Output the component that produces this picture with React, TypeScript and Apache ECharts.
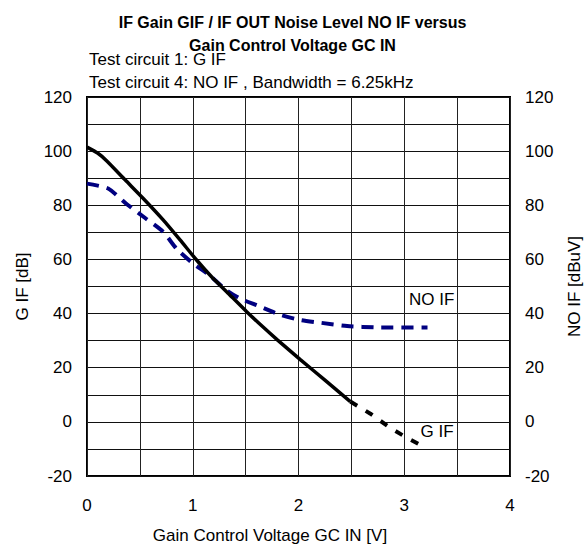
import React, { useEffect, useRef } from "react";
import * as echarts from "echarts";

const titleLines = ["IF Gain GIF / IF OUT Noise Level NO IF versus", "Gain Control Voltage GC IN"];
const noteLines = ["Test circuit 1: G IF", "Test circuit 4: NO IF , Bandwidth = 6.25kHz"];
const xName = "Gain Control Voltage GC IN [V]";
const yLeftName = "G IF [dB]";
const yRightName = "NO IF [dBuV]";

const gifSolid: [number, number][] = [
  [0, 101.5], [0.1, 99.3], [0.19, 96.3], [0.36, 89.4], [0.53, 82.6], [0.72, 74.6],
  [0.88, 67.2], [1.04, 59.6], [1.18, 53.5], [1.32, 48.1], [1.51, 40.7], [1.66, 35.2],
  [1.8, 30.3], [2.02, 22.9], [2.25, 15.4], [2.49, 7.5],
];
const gifDashed: [number, number][] = [
  [2.49, 7.5], [2.68, 3.0], [2.87, -2.3], [3.03, -6.0], [3.19, -9.3],
];
const noIf: [number, number][] = [
  [0, 88], [0.2, 86.2], [0.38, 80.3], [0.55, 75.3], [0.72, 70.2], [0.85, 63.8],
  [1.0, 58.6], [1.15, 54.4], [1.32, 48.6], [1.45, 45.5], [1.61, 43.0], [1.83, 39.5],
  [2.02, 37.6], [2.21, 36.6], [2.46, 35.4], [2.75, 34.9], [3.22, 34.9],
];
const noIfLabel: [number, number] = [3.26, 45.2];
const gifLabel: [number, number] = [3.31, -3.6];

const FONT = "Liberation Sans, Arial, sans-serif";

export default function App() {
  const ref = useRef<HTMLDivElement>(null);
  useEffect(() => {
    if (!ref.current) return;
    const chart = echarts.init(ref.current, undefined, { renderer: "svg" });
    const yAxisBase = {
      type: "value",
      min: -20,
      max: 120,
      interval: 10,
      nameLocation: "middle",
      nameRotate: 90,
      nameGap: 56,
      nameTextStyle: { color: "#000", fontSize: 17, fontFamily: FONT },
      axisLine: { show: false },
      axisTick: { show: false },
      axisLabel: {
        color: "#000",
        fontSize: 17,
        fontFamily: FONT,
        margin: 15,
        formatter: (v: number) => (v % 20 === 0 ? String(v) : ""),
      },
    };
    chart.setOption({
      animation: false,
      backgroundColor: "#fff",
      textStyle: { fontFamily: FONT },
      title: {
        text: titleLines.join("\n"),
        left: "center",
        top: 6,
        textStyle: { fontSize: 16, fontWeight: "bold", color: "#000", lineHeight: 23, fontFamily: FONT },
      },
      grid: {
        left: 87,
        right: 75,
        top: 97,
        bottom: 71,
        outerBoundsMode: "none",
        containLabel: false,
        show: true,
        borderColor: "#000",
        borderWidth: 2,
        backgroundColor: "transparent",
      },
      graphic: [
        ...noteLines.map((t, i) => ({
          type: "text",
          left: 89,
          top: 51 + i * 23,
          style: { text: t, fontSize: 17, fontFamily: FONT, fill: "#000" },
        })),
        {
          type: "text",
          x: 270,
          y: 535,
          style: { text: xName, fontSize: 17, fontFamily: FONT, fill: "#000", align: "center", verticalAlign: "middle" },
        },
      ],
      xAxis: {
        type: "value",
        min: 0,
        max: 4,
        interval: 0.5,
        axisLine: { show: false },
        axisTick: { show: false },
        splitLine: { show: true, lineStyle: { color: "#222", width: 1 } },
        axisLabel: {
          color: "#000",
          fontSize: 17,
          fontFamily: FONT,
          margin: 21,
          formatter: (v: number) => (Number.isInteger(v) ? String(v) : ""),
        },
      },
      yAxis: [
        { ...yAxisBase, name: yLeftName, position: "left", splitLine: { show: true, lineStyle: { color: "#111", width: 1 } } },
        { ...yAxisBase, name: yRightName, position: "right", splitLine: { show: false } },
      ],
      series: [
        {
          type: "line",
          data: gifSolid,
          showSymbol: false,
          smooth: 0.2,
          lineStyle: { color: "#000", width: 3.5 },
          z: 3,
        },
        {
          type: "line",
          data: gifDashed,
          showSymbol: false,
          lineStyle: { color: "#000", width: 4, type: [8, 10] },
          markPoint: {
            symbol: "circle",
            symbolSize: 0,
            data: [{ coord: gifLabel, value: 0 }],
            label: { show: true, position: "inside", formatter: "G IF", color: "#000", fontSize: 17, fontFamily: FONT },
          },
          z: 3,
        },
        {
          type: "line",
          yAxisIndex: 1,
          data: noIf,
          showSymbol: false,
          smooth: 0.2,
          lineStyle: { color: "#000080", width: 4, type: [12, 8] },
          markPoint: {
            symbol: "circle",
            symbolSize: 0,
            data: [{ coord: noIfLabel, value: 0 }],
            label: { show: true, position: "inside", formatter: "NO IF", color: "#000", fontSize: 17, fontFamily: FONT },
          },
          z: 2,
        },
      ],
    });
    return () => chart.dispose();
  }, []);
  return (
    <div
      ref={ref}
      style={{ position: "fixed", left: 0, top: 0, width: 585, height: 547, background: "#fff" }}
    />
  );
}
